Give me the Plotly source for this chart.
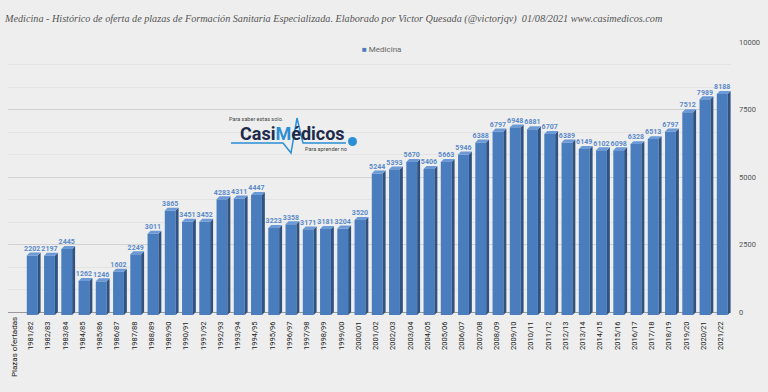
import plotly.graph_objects as go

# ---------------- data ----------------
categories = ["1981/82", "1982/83", "1983/84", "1984/85", "1985/86", "1986/87", "1987/88",
              "1988/89", "1989/90", "1990/91", "1991/92", "1992/93", "1993/94", "1994/95",
              "1995/96", "1996/97", "1997/98", "1998/99", "1999/00", "2000/01", "2001/02",
              "2002/03", "2003/04", "2004/05", "2005/06", "2006/07", "2007/08", "2008/09",
              "2009/10", "2010/11", "2011/12", "2012/13", "2013/14", "2014/15", "2015/16",
              "2016/17", "2017/18", "2018/19", "2019/20", "2020/21", "2021/22"]
plazas = [2202, 2197, 2445, 1262, 1246, 1602, 2249,
          3011, 3865, 3451, 3452, 4283, 4311, 4447,
          3223, 3358, 3171, 3181, 3204, 3520, 5244,
          5393, 5670, 5406, 5663, 5946, 6388, 6797,
          6948, 6881, 6707, 6389, 6149, 6102, 6098,
          6328, 6513, 6797, 7512, 7989, 8188]
y_ticks = [0, 2500, 5000, 7500, 10000]
y_tick_labels = ["0", "2500", "5000", "7500", "10000"]
series_name = "Medicina"

# ---------------- style ----------------
BG = "#eeeeee"
FRONT = "#4a7dbd"
SIDE = "#2f5281"
TOP = "#6b9ad6"
LABEL = "#5a8ac9"
D = 110          # depth in data units (vertical)
X0, X1, X2 = -0.23, 0.40, 0.57   # front left, front right, side right (category units)

W, H = 768, 392
ML, MR, MT, MB = 8, 37, 42, 77
PW, PH = W - ML - MR, H - MT - MB


def px(xp):
    return (xp - ML) / PW


def py(yp):
    return (H - MB - yp) / PH


xs = list(range(len(categories)))

fig = go.Figure()

# front faces
fig.add_trace(go.Bar(
    x=xs, y=plazas, base=-D, width=X1 - X0, offset=X0,
    marker=dict(color=FRONT, line=dict(width=0)),
    name=series_name, showlegend=False, hoverinfo="skip"))

# side faces and top faces (3D look), derived from the values
sx, sy, tx, ty = [], [], [], []
for i, v in zip(xs, plazas):
    sx += [i + X1, i + X1, i + X2, i + X2, i + X1, None]
    sy += [-D, v - D, v, 0, -D, None]
    tx += [i + X0, i + X1, i + X2, i + X0 + (X2 - X1), i + X0, None]
    ty += [v - D, v - D, v, v, v - D, None]

fig.add_trace(go.Scatter(x=sx, y=sy, mode="lines", fill="toself", fillcolor=SIDE,
                         line=dict(width=0, color=SIDE), showlegend=False, hoverinfo="skip"))
fig.add_trace(go.Scatter(x=tx, y=ty, mode="lines", fill="toself", fillcolor=TOP,
                         line=dict(width=0, color=TOP), showlegend=False, hoverinfo="skip"))

# value labels
fig.add_trace(go.Scatter(
    x=[i + 0.08 for i in xs], y=plazas, mode="text", text=[str(v) for v in plazas],
    textposition="top center",
    textfont=dict(family="Roboto", size=7, color=LABEL, weight="bold"),
    showlegend=False, hoverinfo="skip", cliponaxis=False))

fig.update_layout(
    width=W, height=H,
    margin=dict(l=ML, r=MR, t=MT, b=MB, autoexpand=False),
    paper_bgcolor=BG, plot_bgcolor=BG,
    showlegend=False,
    title=dict(
        text="Medicina - Histórico de oferta de plazas de Formación Sanitaria Especializada. "
             "Elaborado por Victor Quesada (@victorjqv)  01/08/2021 www.casimedicos.com",
        x=5 / W, xanchor="left", xref="container",
        y=1 - 18 / H, yanchor="middle", yref="container",
        font=dict(family="Liberation Serif", size=10.2, color="#555555", style="italic")),
    xaxis=dict(
        range=[-1.32, -1.32 + PW / 17.25],
        tickmode="array", tickvals=xs, ticktext=categories, tickangle=-90,
        tickfont=dict(family="Roboto", size=7.5, color="#222222"),
        showgrid=False, zeroline=False, showline=False, ticks="",
        ticklabelstandoff=4),
    yaxis=dict(
        side="right", range=[-111, 10000],
        tickmode="array", tickvals=y_ticks, ticktext=y_tick_labels,
        tickfont=dict(family="Roboto", size=7.5, color="#555555"),
        showgrid=True, gridcolor="#d2d2d2", gridwidth=1,
        minor=dict(dtick=2500 / 3, tick0=0, showgrid=True, gridcolor="#e3e3e3", gridwidth=1),
        zeroline=True, zerolinecolor="#9a9a9a", zerolinewidth=1,
        showline=False, ticks="", ticklabelstandoff=7),
)

# legend (drawn as text)
fig.add_annotation(
    x=px(360), y=py(49), xref="paper", yref="paper", xanchor="left", yanchor="middle",
    text=f"<span style='color:{FRONT}'>■</span> {series_name}", showarrow=False,
    font=dict(family="Roboto", size=8, color="#666666"))

# x axis title
fig.add_annotation(
    x=px(14), y=py(347), xref="paper", yref="paper", xanchor="center", yanchor="middle",
    text="Plazas ofertadas", textangle=-90, showarrow=False,
    font=dict(family="Roboto", size=8, color="#222222"))

# logo (decorative)
fig.add_annotation(x=px(256), y=py(114), xref="paper", yref="paper", showarrow=False,
                   text="Para saber estas solo.", font=dict(family="Roboto", size=5.5, color="#444444"))
fig.add_annotation(x=px(292), y=py(133), xref="paper", yref="paper", showarrow=False,
                   text="Casi<span style='color:#2a8fd6'>M</span>édicos",
                   font=dict(family="Roboto", size=18, color="#1c2b4a", weight="bold"))
fig.add_annotation(x=px(326), y=py(149), xref="paper", yref="paper", showarrow=False,
                   text="Para aprender no", font=dict(family="Roboto", size=5.5, color="#444444"))
path_pts = [(231, 143), (283, 143), (291, 153), (297, 118), (303, 143), (346, 143)]
fig.add_shape(type="path", xref="paper", yref="paper",
              path="M " + " L ".join(f"{px(a):.4f},{py(b):.4f}" for a, b in path_pts),
              line=dict(color="#2a8fd6", width=1.5))
fig.add_shape(type="circle", xref="paper", yref="paper",
              x0=px(348), x1=px(357), y0=py(146), y1=py(137),
              fillcolor="#2a8fd6", line=dict(width=0))

fig.write_html("out.html", config={"displayModeBar": False},
               post_script="document.body.style.margin='0';document.body.style.overflow='hidden';")
